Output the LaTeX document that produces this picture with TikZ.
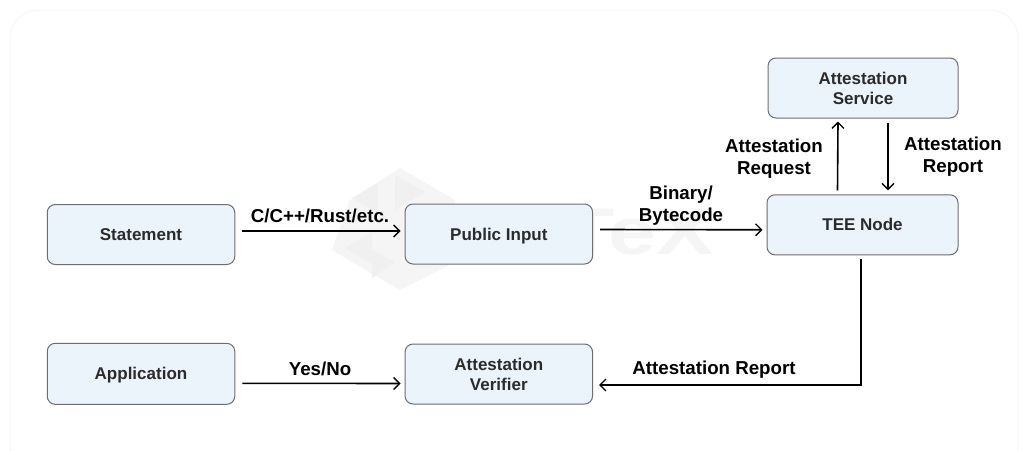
\documentclass[tikz,border=0pt]{standalone}
\usepackage{fontspec}
\setmainfont{Liberation Sans}
\usetikzlibrary{arrows.meta}
\definecolor{boxfill}{HTML}{EBF3FB}
\definecolor{boxline}{HTML}{6E6E6E}
\definecolor{boxtext}{HTML}{2B2B2B}
\definecolor{wm}{HTML}{F5F5F5}
\definecolor{wmd}{HTML}{F0F0F0}
\tikzset{
  x=1pt,y=-1pt,
  stagebox/.style={draw=boxline,line width=1pt,fill=boxfill,rounded corners=8pt,minimum width=187.5pt,minimum height=60pt,inner sep=0pt,align=center,font=\bfseries\fontsize{17}{20}\selectfont,text=boxtext},
  oneline/.style={text height=12pt,text depth=0pt},
  flow/.style={draw=black,line width=1.6pt,-{Straight Barb[length=6pt,width=12pt,line width=1.3pt]}},
  lab/.style={align=center,font=\bfseries\fontsize{18.7}{22}\selectfont,text=black,inner sep=0pt},
}
\begin{document}
\begin{tikzpicture}
\useasboundingbox (0,0) rectangle (1028,450);
\fill[white] (0,0) rectangle (1028,450);
\draw[wm,line width=.8pt,rounded corners=28pt] (10,10) rectangle (1018,472);
% watermark logo and word
\fill[wm] (400,168) -- (455,200) -- (455,262) -- (400,290) -- (332,250) -- (350,200) -- cycle;
\fill[wmd] (352,198) -- (378,183) -- (378,213) -- cycle;
\fill[wmd] (395,175) -- (425,192) -- (395,210) -- cycle;
\fill[wmd] (372,250) -- (395,262) -- (372,278) -- cycle;
\fill[wmd] (345,248) -- (372,232) -- (372,264) -- cycle;
\node[font=\bfseries\fontsize{66}{66}\selectfont,text=wm,inner sep=0pt] (wmword) at (600,232) {\scalebox{1.3}[1]{IoTeX}};
% boxes
\node[stagebox,oneline] (statement) at (141,234.5) {Statement};
\node[stagebox,oneline] (public) at (498.8,234) {Public Input};
\node[stagebox,oneline,minimum width=191pt] (tee) at (862.5,224.8) {TEE Node};
\node[stagebox,minimum width=190pt] (service) at (863,88) {Attestation\\Service};
\node[stagebox,oneline,minimum height=61pt] (application) at (141,373.8) {Application};
\node[stagebox] (verifier) at (498.8,374) {Attestation\\Verifier};
% connectors
\draw[flow] ([shift={(7,-3.5)}]statement.east) -- ([shift={(-4,-3)}]public.west);
\draw[flow] ([shift={(7,-4.5)}]public.east) -- ([shift={(-4,5)}]tee.west);
\draw[flow] ([xshift=-25pt,yshift=4pt]tee.north) -- ([xshift=-25pt,yshift=-3pt]service.south);
\draw[flow] ([xshift=25pt,yshift=-4pt]service.south) -- ([xshift=25.5pt,yshift=4pt]tee.north);
\draw[flow] ([xshift=-1.5pt,yshift=-4pt]tee.south) |- ([shift={(6,11)}]verifier.east);
\draw[flow] ([shift={(7,9.5)}]application.east) -- ([shift={(-4,9.5)}]verifier.west);
% labels
\node[lab] (l1) at (320,216) {C/C++/Rust/etc.};
\node[lab] (l2) at (681,205.5) {Binary/\\Bytecode};
\node[lab] (l3) at (774,159) {Attestation\\Request};
\node[lab] (l4) at (953,157) {Attestation\\Report};
\node[lab] (l5) at (714,370) {Attestation Report};
\node[lab] (l6) at (320,369) {Yes/No};
\end{tikzpicture}
\end{document}
